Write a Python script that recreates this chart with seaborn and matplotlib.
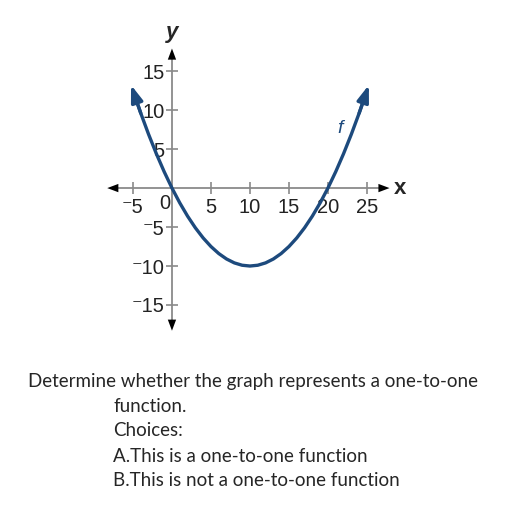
import seaborn as sns
import matplotlib.pyplot as plt
import pandas as pd

x_vals = [-5, -4, -3, -2, -1, 0, 1, 2, 3, 4, 5, 6, 7, 8, 9, 10,
          11, 12, 13, 14, 15, 16, 17, 18, 19, 20, 21, 22, 23, 24, 25]
y_vals = [12.5, 9.6, 6.9, 4.4, 2.1, 0, -1.9, -3.6, -5.1, -6.4, -7.5, -8.4, -9.1, -9.6, -9.9, -10,
          -9.9, -9.6, -9.1, -8.4, -7.5, -6.4, -5.1, -3.6, -1.9, 0, 2.1, 4.4, 6.9, 9.6, 12.5]
x_ticks = [-5, 5, 10, 15, 20, 25]
y_ticks = [-15, -10, -5, 5, 10, 15]

question = "Determine whether the graph represents a one-to-one"
choices = ["function.", "Choices:", "A.This is a one-to-one function",
           "B.This is not a one-to-one function"]

sns.set_style("white")
plt.rcParams['font.family'] = ['Liberation Sans', 'DejaVu Sans']

navy = "#1d4a7d"
grey = "#8a8a8a"


def fmt(t):
    return ("\u207b" + str(-t)) if t < 0 else str(t)


df = pd.DataFrame({"x": x_vals, "y": y_vals})

fig = plt.figure(figsize=(5.12, 5.12), dpi=100)
ax = fig.add_axes([0.1988, 0.3434, 0.594, 0.609])
ax.set_xlim(-9, 30)
ax.set_ylim(-19, 21)

sns.lineplot(data=df, x="x", y="y", ax=ax, color=navy, lw=2.4, sort=False, zorder=5)
# arrow heads on the curve ends
for i0, i1 in [(1, 0), (-2, -1)]:
    ax.annotate("", xy=(x_vals[i1] + (x_vals[i1] - x_vals[i0]) * 0.25,
                        y_vals[i1] + (y_vals[i1] - y_vals[i0]) * 0.25),
                xytext=(x_vals[i0], y_vals[i0]),
                arrowprops=dict(arrowstyle="-|>,head_length=1.0,head_width=0.35",
                                color=navy, lw=2.4, shrinkA=0, shrinkB=0), zorder=6)

for s in ["top", "right"]:
    ax.spines[s].set_visible(False)
ax.spines["left"].set_position(("data", 0))
ax.spines["bottom"].set_position(("data", 0))
ax.spines["left"].set_bounds(-17.5, 17)
ax.spines["bottom"].set_bounds(-7.5, 27)
for s in ["left", "bottom"]:
    ax.spines[s].set_color(grey)
    ax.spines[s].set_linewidth(1.3)

ax.set_xticks(x_ticks)
ax.set_xticklabels([fmt(t) for t in x_ticks])
ax.set_yticks(y_ticks)
ax.set_yticklabels([fmt(t) for t in y_ticks])
ax.tick_params(axis="both", direction="inout", length=9, width=1.2, color=grey,
               labelsize=14.5, labelcolor="#222222", bottom=True, left=True)
ax.tick_params(axis="x", pad=2.5)
ax.tick_params(axis="y", pad=1)
ax.set_xlabel("")
ax.set_ylabel("")

# axis arrow heads
arr = dict(arrowstyle="-|>,head_length=0.8,head_width=0.3", color="black", lw=0, shrinkA=0, shrinkB=0)
ax.annotate("", xy=(27.9, 0), xytext=(26.5, 0), arrowprops=arr)
ax.annotate("", xy=(-8.3, 0), xytext=(-6.9, 0), arrowprops=arr)
ax.annotate("", xy=(0, 17.9), xytext=(0, 16.5), arrowprops=arr)
ax.annotate("", xy=(0, -18.3), xytext=(0, -16.9), arrowprops=arr)

ax.text(-0.2, -0.8, "0", ha="right", va="top", fontsize=14.5, color="#222222")
ax.text(28.5, 0, "x", ha="left", va="center", fontsize=16, fontweight="bold")
ax.text(0, 18.6, "y", ha="center", va="bottom", fontsize=16, fontweight="bold", style="italic")
ax.text(21.5, 7.7, "f", ha="center", va="center", fontsize=14, style="italic", color=navy)

fig.text(28 / 512, 1 - 381 / 512, question, fontsize=13.5, family="Lato", va="center")
for k, line in enumerate(choices):
    fig.text(113 / 512, 1 - (406 + 25 * k) / 512, line, fontsize=13.5, family="Lato", va="center")

fig.savefig("out.png", dpi=100)
